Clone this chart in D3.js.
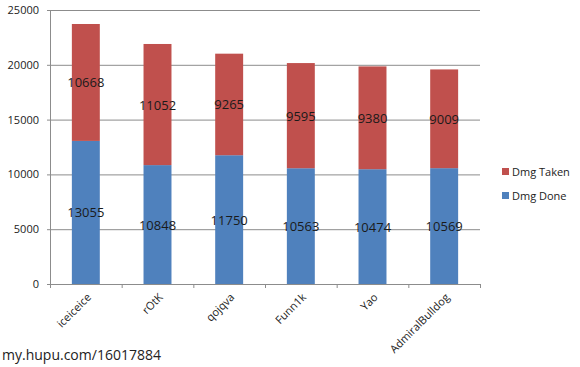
<!DOCTYPE html>
<html><head><meta charset="utf-8">
<script src="https://cdn.jsdelivr.net/npm/d3@7"></script>
<style>body{margin:0;background:#fff}svg{display:block}</style>
</head><body>
<svg id="c" width="580" height="367"></svg>
<script>
const categories = ["iceiceice","rOtK","qojqva","Funn1k","Yao","AdmiralBulldog"];
const dmgDone = [13055,10848,11750,10563,10474,10569];
const dmgTaken = [10668,11052,9265,9595,9380,9009];
const yTicks = [0,5000,10000,15000,20000,25000];
const seriesNames = ["Dmg Done","Dmg Taken"];
const colors = ["#4F81BD","#C0504D"];

(function(){
const svg = d3.select("#c");
const font = "'Open Sans', 'Liberation Sans', sans-serif";
const pLeft = 50, pRight = 480, pTop = 10, pBottom = 284;
const x = d3.scaleBand().domain(categories).range([pLeft, pRight]).paddingInner(0.61).paddingOuter(0.305);
const y = d3.scaleLinear().domain([0,25000]).range([pBottom, pTop]);

svg.append("g").selectAll("line").data(yTicks).join("line")
  .attr("x1", pLeft-3).attr("x2", pRight).attr("y1", d=>y(d)+0.5).attr("y2", d=>y(d)+0.5)
  .attr("stroke", "#8c8c8c").attr("stroke-width", 1);
svg.append("line").attr("x1", pLeft+0.5).attr("x2", pLeft+0.5).attr("y1", pTop).attr("y2", pBottom+4)
  .attr("stroke", "#8c8c8c");
svg.append("g").selectAll("text").data(yTicks).join("text")
  .attr("x", 39).attr("y", d=>y(d)+4).attr("text-anchor","end")
  .attr("font-family", font).attr("font-size", 11).attr("fill", "#222").text(d=>d);
const xt = d3.range(categories.length+1).map(i => pLeft + i*(pRight-pLeft)/categories.length);
svg.append("g").selectAll("line").data(xt).join("line")
  .attr("x1", d=>d+0.5).attr("x2", d=>d+0.5).attr("y1", pBottom).attr("y2", pBottom+4)
  .attr("stroke", "#8c8c8c");

const stack = d3.stack().keys([0,1]).value((d,k)=>k===0?d.done:d.taken);
const rows = categories.map((c,i)=>({cat:c, done:dmgDone[i], taken:dmgTaken[i]}));
const layers = stack(rows);
layers.forEach((layer, k) => {
  const g = svg.append("g");
  g.selectAll("rect").data(layer).join("rect")
    .attr("x", d=>x(d.data.cat)).attr("width", x.bandwidth())
    .attr("y", d=>y(d[1])).attr("height", d=>y(d[0])-y(d[1]))
    .attr("fill", colors[k]);
  g.selectAll("text").data(layer).join("text")
    .attr("x", d=>x(d.data.cat)+x.bandwidth()/2)
    .attr("y", d=>(y(d[0])+y(d[1]))/2+5)
    .attr("text-anchor","middle").attr("font-family", font).attr("font-size", 13)
    .attr("fill", "#1a1a1a").text(d=>k===0?d.data.done:d.data.taken);
});

svg.append("g").selectAll("text").data(categories).join("text")
  .attr("transform", d=>`translate(${x(d)+x.bandwidth()/2+6},${pBottom+14}) rotate(-45)`)
  .attr("text-anchor","end").attr("font-family", font).attr("font-size", 11)
  .attr("fill", "#222").text(d=>d);

const leg = [{n:seriesNames[1], c:colors[1]},{n:seriesNames[0], c:colors[0]}];
const lg = svg.append("g").selectAll("g").data(leg).join("g")
  .attr("transform", (d,i)=>`translate(502,${168+i*24})`);
lg.append("rect").attr("width",7).attr("height",7).attr("fill", d=>d.c);
lg.append("text").attr("x", 10).attr("y", 7.5).attr("font-family", font).attr("font-size", 11)
  .attr("fill","#222").text(d=>d.n);

svg.append("text").attr("x", 2).attr("y", 360).attr("font-family", font).attr("font-size", 14)
  .attr("fill", "#222").text("my.hupu.com/16017884");
})();
</script>
</body></html>
